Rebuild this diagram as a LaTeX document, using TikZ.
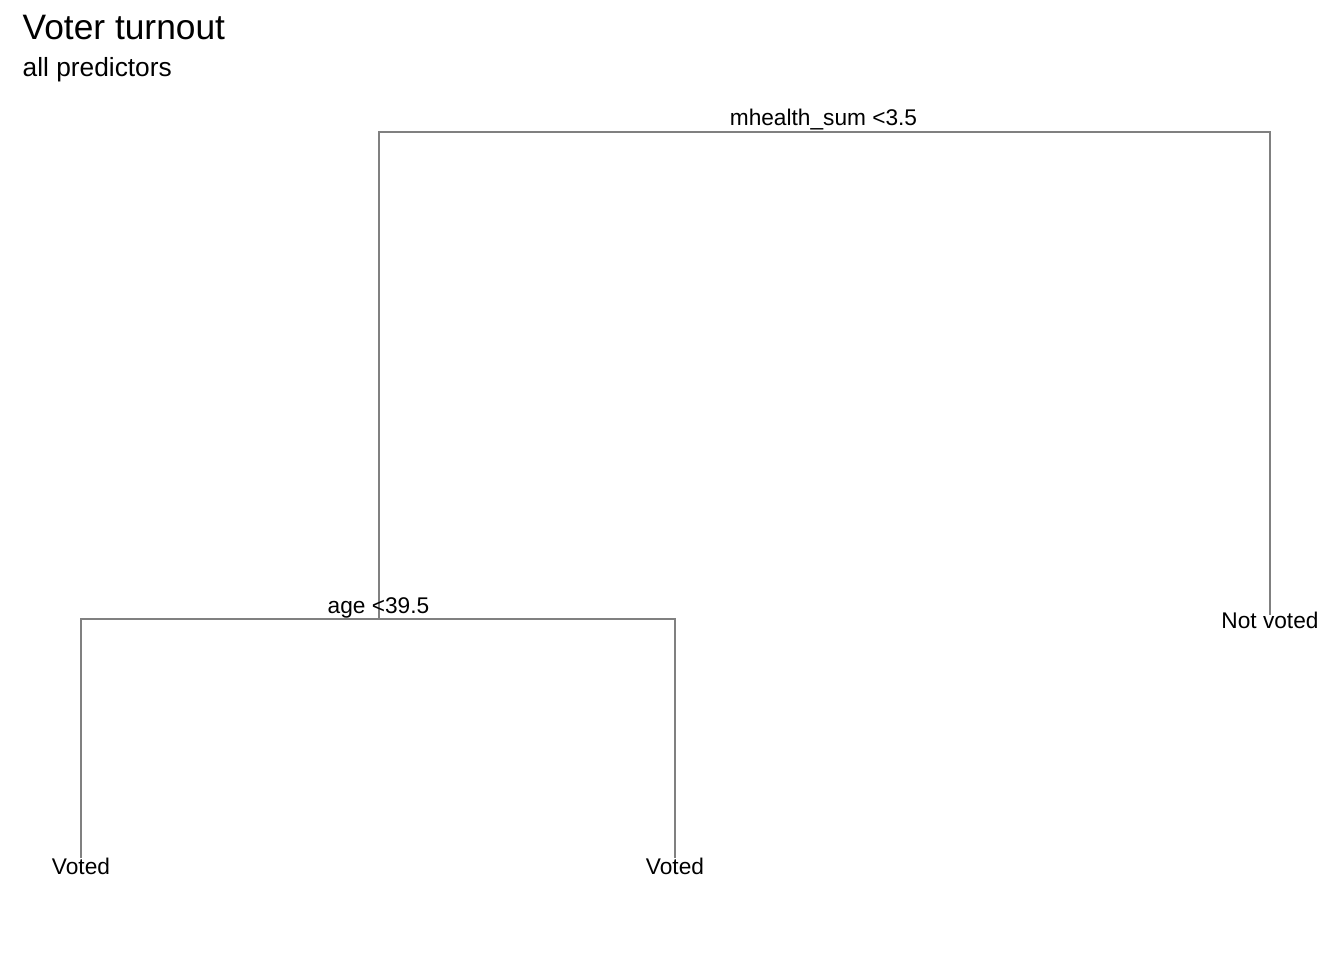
\documentclass[tikz,border=0pt]{standalone}
\usepackage{fontspec}
\setmainfont{Liberation Sans}
\usetikzlibrary{positioning}
\definecolor{treegrey}{RGB}{128,128,128}

\begin{document}
\begin{tikzpicture}[x=0.01cm, y=-0.01cm,
            line cap=butt, line join=miter,  % Bords nets
            branch/.style={draw=treegrey, line width=0.7pt},  % Style des branches
            split/.style={font=\fontsize{6.45}{7.5}\selectfont, anchor=base, inner sep=0pt},
            leaf/.style={font=\fontsize{6.45}{7.5}\selectfont, anchor=base, inner sep=0pt}
        ]
        \useasboundingbox (0,0) rectangle (1344,960);

        % (1) Titre et sous-titre
        \node[font=\fontsize{10.05}{12}\selectfont, anchor=base west, inner sep=0pt] (title) at (22,39) {Voter turnout};
        \node[font=\fontsize{7.48}{9}\selectfont, anchor=base west, inner sep=0pt] (subtitle) at (22,76) {all predictors};

        % (2) Points de l'arbre
        \coordinate (rootL) at (379,132);
        \coordinate (rootR) at (1270,132);
        \coordinate (age) at (379,619);
        \coordinate (ageL) at (81,619);
        \coordinate (ageR) at (675,619);
        \coordinate (endA) at (81,858);
        \coordinate (endB) at (675,858);
        \coordinate (endC) at (1270,615);

        % (3) Les branches
        \draw[branch] (age) -- (rootL) -- (rootR) -- (endC);
        \draw[branch] (endA) -- (ageL) -- (ageR) -- (endB);

        % (4) Les conditions
        \node[split] (mhealth) at (823.5,125) {mhealth\_sum <3.5};
        \node[split] (agesplit) at (378.5,613) {age <39.5};

        % (5) Les feuilles
        \node[leaf] (voted1) at (81,874) {Voted};
        \node[leaf] (voted2) at (675,874) {Voted};
        \node[leaf] (notvoted) at (1270,628) {Not voted};
\end{tikzpicture}
\end{document}
